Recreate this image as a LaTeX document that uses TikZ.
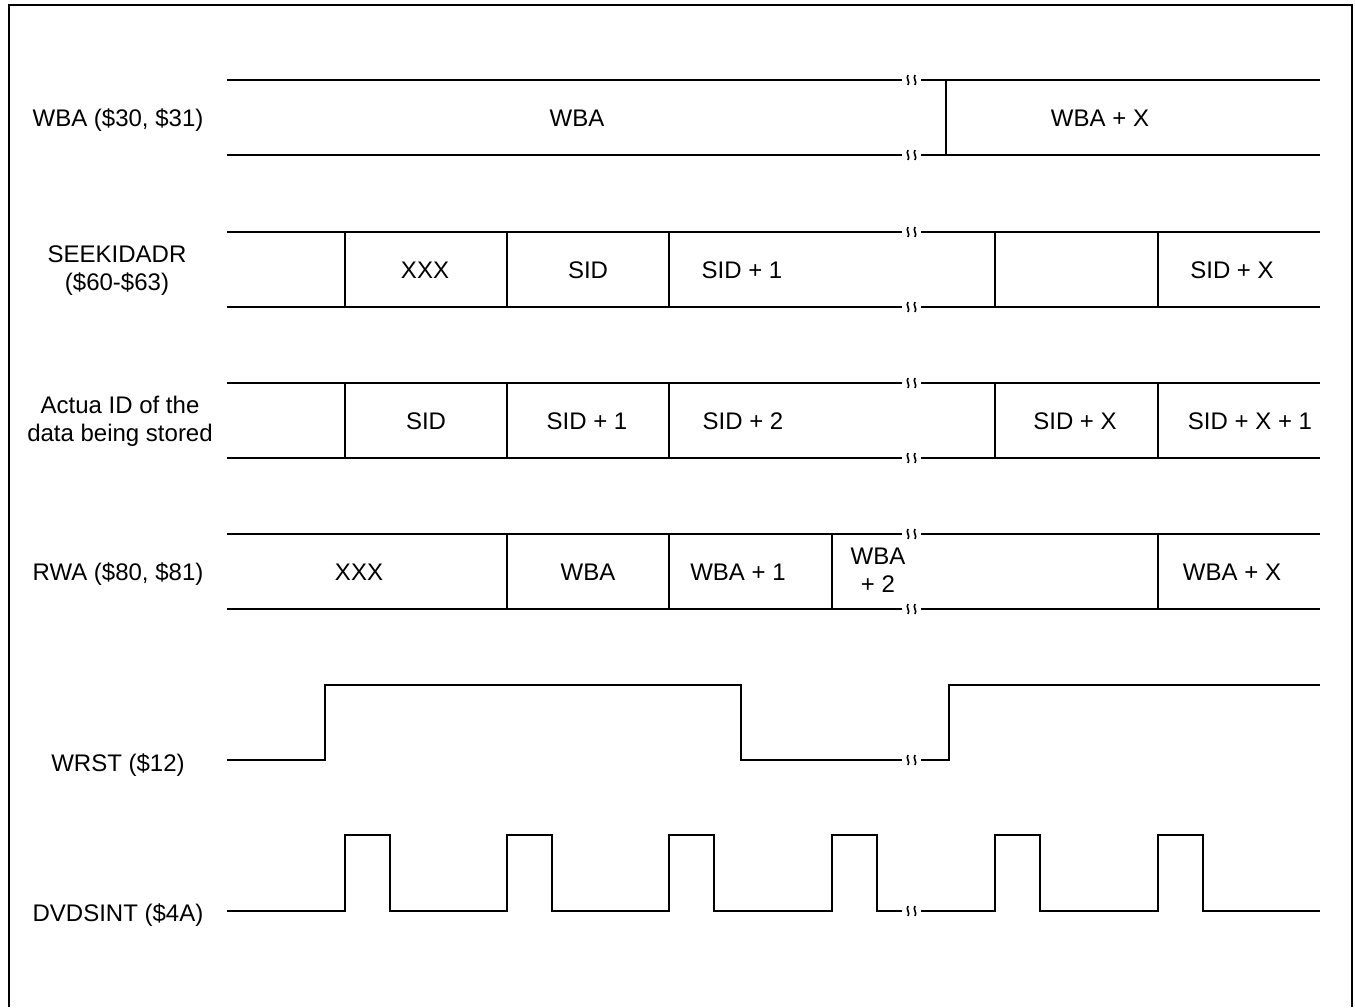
\documentclass[tikz,border=0pt]{standalone}
\usepackage{fontspec}
\setmainfont{Liberation Sans}
\usetikzlibrary{positioning}

% small break mark on a line at (x,y)
\newcommand{\brkmark}[2]{%
  \draw[brk] (#1-3.5,#2-5) .. controls (#1-6,#2-1) and (#1-1,#2+1) .. (#1-3.5,#2+5);
  \draw[brk] (#1+3.5,#2-5) .. controls (#1+1,#2-1) and (#1+6,#2+1) .. (#1+3.5,#2+5);}

\begin{document}
\begin{tikzpicture}[x=0.5pt,y=-0.5pt,
  sig/.style={line width=0.7pt},
  brk/.style={line width=0.8pt},
  lbl/.style={font=\fontsize{12}{14}\selectfont,align=center,inner sep=0pt,anchor=base},
  cell/.style={lbl}]
\useasboundingbox (0,0) rectangle (1355,1007);
\draw[line width=1.2pt] (9,1007) -- (9,5) -- (1352,5) -- (1352,1007);

% bus rows
\foreach \t in {80,232,383,534}{
  \foreach \yy in {\t,\t+75}{
    \draw[sig] (227,\yy) -- (902,\yy);
    \draw[sig] (921,\yy) -- (1320,\yy);
    \brkmark{911.5}{\yy}
  }
}
\draw[sig] (946,80) -- (946,155);
\foreach \x in {345,507,669,995,1158}{
  \draw[sig] (\x,232) -- (\x,307);
  \draw[sig] (\x,383) -- (\x,458);
}
\foreach \x in {507,669,832,1158}
  \draw[sig] (\x,534) -- (\x,609);

% signal names (multi-line: y is last baseline)
\node[lbl] (lwba) at (118,126) {WBA (\$30, \$31)};
\node[lbl] (lseek) at (117,290) {SEEKIDADR\\(\$60-\$63)};
\node[lbl] (lactual) at (120,441) {Actua ID of the\\data being stored};
\node[lbl] (lrwa) at (118,580) {RWA (\$80, \$81)};
\node[lbl] (lwrst) at (118,771) {WRST (\$12)};
\node[lbl] (ldvd) at (118,921) {DVDSINT (\$4A)};

% WBA
\node[cell] (wba) at (577,126) {WBA};
\node[cell] (wbax) at (1100,126) {WBA + X};
% SEEKIDADR
\node[cell] (seek1) at (425,278) {XXX};
\node[cell] (seek2) at (588,278) {SID};
\node[cell] (seek3) at (742,278) {SID + 1};
\node[cell] (seek4) at (1232,278) {SID + X};
% actual ID
\node[cell] (act1) at (426,429) {SID};
\node[cell] (act2) at (587,429) {SID + 1};
\node[cell] (act3) at (743,429) {SID + 2};
\node[cell] (act4) at (1075,429) {SID + X};
\node[cell] (act5) at (1250,429) {SID + X + 1};
% RWA
\node[cell] (rwa1) at (359,580) {XXX};
\node[cell] (rwa2) at (588,580) {WBA};
\node[cell] (rwa3) at (738,580) {WBA + 1};
\node[cell] (rwa4) at (878,592) {WBA\\+ 2};
\node[cell] (rwa5) at (1232,580) {WBA + X};

% WRST
\draw[sig] (227,760) -- (325,760) -- (325,685) -- (741,685) -- (741,760) -- (902,760);
\draw[sig] (921,760) -- (949,760) -- (949,685) -- (1320,685);
\brkmark{911.5}{760}

% DVDSINT
\draw[sig] (227,911) foreach \x in {345,507,669,832}{
  -- (\x,911) -- (\x,835) -- (\x+45,835) -- (\x+45,911)} -- (902,911);
\draw[sig] (921,911) foreach \x in {995,1158}{
  -- (\x,911) -- (\x,835) -- (\x+45,835) -- (\x+45,911)} -- (1320,911);
\brkmark{911.5}{911}
\end{tikzpicture}
\end{document}
